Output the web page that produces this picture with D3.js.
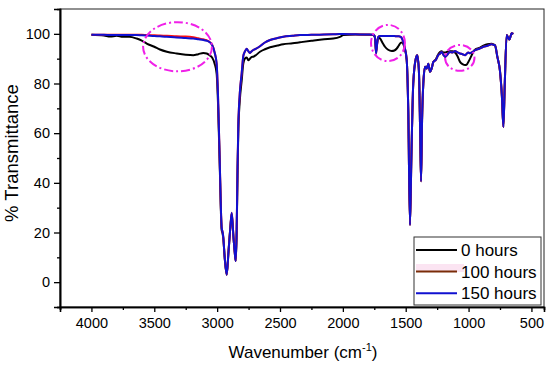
<!DOCTYPE html>
<html>
<head>
<meta charset="utf-8">
<script src="https://cdn.jsdelivr.net/npm/d3@7"></script>
<style>
  body { margin: 0; background: #fff; }
  svg { display: block; font-family: "Liberation Sans", Arial, sans-serif; }
  .axis path, .axis line { stroke: #000; }
  .axis text { fill: #000; font-size: 14.5px; }
</style>
</head>
<body>
<div id="chart"></div>
<script>
// wavenumbers (cm-1), shared by all three spectra
const wavenumbers = [4000, 3900, 3850, 3800, 3750, 3700, 3640, 3600, 3560, 3500, 3455, 3400, 3322, 3250, 3190, 3150, 3110, 3083, 3070, 3040, 3020, 3004, 2993, 2980, 2964, 2956, 2951, 2940, 2924, 2910, 2895, 2884, 2870, 2860, 2852, 2845, 2838, 2832, 2820, 2805, 2792, 2778, 2765, 2752, 2739, 2725, 2712, 2690, 2659, 2620, 2579, 2520, 2474, 2400, 2341, 2250, 2150, 2076, 2023, 1996, 1900, 1800, 1760, 1745, 1736, 1725, 1718, 1704, 1680, 1665, 1640, 1611, 1590, 1571, 1555, 1540, 1532, 1510, 1492, 1480, 1466, 1455, 1440, 1420, 1408, 1395, 1385, 1378, 1370, 1360, 1346, 1333, 1320, 1307, 1294, 1280, 1260, 1241, 1227, 1214, 1200, 1187, 1170, 1148, 1128, 1108, 1088, 1068, 1048, 1028, 1015, 1002, 988, 975, 960, 949, 915, 882, 850, 816, 800, 790, 771, 750, 735, 723, 712, 697, 676, 657, 644];

// % transmittance, 0 hours
const t0 = [99.6, 99.3, 98.9, 99.2, 98.8, 98.8, 98.1, 97.3, 96.1, 94.8, 93.7, 92.8, 92.1, 91.6, 91.4, 91.8, 92.3, 92.1, 91.7, 90.5, 88, 84, 72, 48, 21, 19.5, 17.5, 10, 3, 12, 22, 27.5, 18, 12, 8.5, 19, 43, 60, 73, 81, 88, 90.1, 90.5, 89.4, 90, 90.7, 90.8, 91.5, 92.8, 93.8, 94.6, 95.3, 95.8, 96.2, 96.6, 97.2, 97.8, 98.1, 98.8, 99.5, 99.7, 99.6, 99.5, 98.5, 93, 97, 98.5, 98.1, 96, 94.8, 93.6, 93.1, 93.3, 94.1, 95.3, 96.4, 96.5, 94.5, 89.4, 70, 23, 50, 80, 90, 91.4, 85, 60, 40.6, 65, 80, 86.7, 86, 88, 84.7, 86, 88.7, 89.8, 91.8, 92.7, 93, 92.5, 92.5, 92.8, 93, 93, 92.5, 91, 88.7, 87.8, 87.4, 87.6, 88.7, 90, 91.4, 93, 93.6, 94.3, 95.2, 95.8, 96, 95.7, 95.4, 90.7, 85, 75, 62.5, 80, 99.5, 97.7, 100.2, 100];

// % transmittance, 100 hours
const t100 = [99.6, 99.6, 99.6, 99.6, 99.6, 99.6, 99.6, 99.6, 99.5, 99.4, 99.3, 99.2, 99.0, 98.9, 98.6, 98.2, 97.8, 97.4, 97.1, 95.6, 92.5, 88, 75, 50, 22, 20, 18, 10, 3, 12, 22, 28, 18, 12, 8.5, 20, 45, 62, 76, 84, 91, 93, 94, 93, 92.3, 93, 93.5, 94, 95, 96.5, 97.5, 98.3, 98.8, 99.2, 99.5, 99.6, 99.7, 99.8, 99.9, 99.9, 99.8, 99.7, 99.6, 99, 92, 97, 98.8, 99.1, 99.1, 99.1, 99.1, 99.1, 99.1, 99.0, 99, 98.8, 98.3, 95, 89.4, 70, 23, 50, 80, 90, 91.4, 85, 60, 40.6, 65, 80, 86.7, 86, 88, 84.7, 86, 88.7, 89.5, 91.4, 92, 92.7, 91.5, 90.7, 91.5, 92.7, 92.5, 93.1, 92.5, 92.1, 91.8, 91.4, 92, 92.5, 92.2, 92.5, 93, 93.4, 94, 94.8, 95.2, 95.8, 95.5, 95.4, 90.7, 85, 75, 62.5, 80, 99.5, 97.7, 100.2, 100];

// % transmittance, 150 hours
const t150 = [99.6, 99.6, 99.5, 99.5, 99.5, 99.5, 99.5, 99.4, 99.3, 99.1, 99.0, 98.8, 98.5, 98.3, 98.1, 97.8, 97.5, 97.2, 97.0, 95.5, 92.5, 88, 75, 50, 22, 20, 18, 10, 3, 12, 22, 28, 18, 12, 8.5, 20, 45, 62, 76, 84, 91, 93, 94, 93, 92.3, 93, 93.5, 94, 95, 96.5, 97.5, 98.3, 98.8, 99.2, 99.5, 99.6, 99.7, 99.8, 99.9, 99.9, 99.8, 99.7, 99.6, 99, 92, 97, 98.8, 99.1, 99.1, 99.1, 99.1, 99.1, 99.1, 99.0, 99, 98.8, 98.3, 95, 89.4, 70, 23, 50, 80, 90, 91.4, 85, 60, 40.6, 65, 80, 86.7, 86, 88, 84.7, 86, 88.7, 89.5, 91.4, 92, 92.7, 91.5, 90.7, 91.5, 92.7, 92.5, 93.1, 92.5, 92.1, 91.8, 91.4, 92, 92.5, 92.2, 92.5, 93, 93.4, 94, 94.8, 95.2, 95.8, 95.5, 95.4, 90.7, 85, 75, 62.5, 80, 99.5, 97.7, 100.2, 100];

const seriesNames = ["0 hours", "100 hours", "150 hours"];
const seriesColors = ["#000000", "#ff1010", "#1010d0"];
const legendColors = ["#000000", "#7a2c08", "#1010d0"];

const xTicks = [4000, 3500, 3000, 2500, 2000, 1500, 1000, 500];
const xMinor = [4250, 3750, 3250, 2750, 2250, 1750, 1250, 750];
const yTicks = [0, 20, 40, 60, 80, 100];
const yMinor = [-10, 10, 30, 50, 70, 90];

// highlighted regions: [wavenumber, %T, half-width (cm-1), half-height (%T)]
const highlights = [[3315, 94.8, 274, 9.9], [1641, 96.3, 135, 7.3], [1070, 90.3, 117, 5.2]];

const width = 550, height = 369;
const margin = {top: 9, right: 6, bottom: 62, left: 60};

const svg = d3.select("#chart").append("svg")
    .attr("width", width)
    .attr("height", height);

const x = d3.scaleLinear().domain([4250, 400]).range([margin.left, width - margin.right]);
const y = d3.scaleLinear().domain([-10, 110]).range([height - margin.bottom, margin.top]);

// frame
svg.append("rect")
    .attr("x", margin.left).attr("y", margin.top)
    .attr("width", width - margin.left - margin.right)
    .attr("height", height - margin.top - margin.bottom)
    .attr("fill", "none").attr("stroke", "#222").attr("stroke-width", 1);

const spectra = [t0, t100, t150];
const line = d3.line()
    .x((d, i) => x(wavenumbers[i]))
    .y(d => y(d))
    .curve(d3.curveMonotoneX);

svg.append("g").selectAll("path")
    .data(spectra)
    .enter().append("path")
    .attr("d", d => line(d))
    .attr("fill", "none")
    .attr("stroke", (d, i) => seriesColors[i])
    .attr("stroke-width", 2)
    .attr("stroke-linejoin", "round");

// dash-dot ellipses
svg.append("g").selectAll("ellipse")
    .data(highlights)
    .enter().append("ellipse")
    .attr("cx", d => x(d[0]))
    .attr("cy", d => y(d[1]))
    .attr("rx", d => x(d[0] - d[2]) - x(d[0]))
    .attr("ry", d => y(d[1] - d[3]) - y(d[1]))
    .attr("fill", "none")
    .attr("stroke", "#f020e8")
    .attr("stroke-width", 2)
    .attr("stroke-dasharray", "9,3,2,3");

// axes
svg.append("g").attr("class", "axis")
    .attr("transform", `translate(0,${height - margin.bottom})`)
    .call(d3.axisBottom(x).tickValues(xTicks).tickFormat(d3.format("d")).tickSize(5).tickPadding(6));
svg.append("g").attr("class", "axis")
    .attr("transform", `translate(0,${height - margin.bottom})`)
    .call(d3.axisBottom(x).tickValues(xMinor).tickSize(3).tickFormat(""));

svg.append("g").attr("class", "axis")
    .attr("transform", `translate(${margin.left},0)`)
    .call(d3.axisLeft(y).tickValues(yTicks).tickSize(6).tickPadding(4));
svg.append("g").attr("class", "axis")
    .attr("transform", `translate(${margin.left},0)`)
    .call(d3.axisLeft(y).tickValues(yMinor).tickSize(3).tickFormat(""));

svg.selectAll(".axis path").attr("stroke-width", 1.6);
svg.selectAll(".axis line").attr("stroke-width", 1.3);

// axis titles
const xTitle = svg.append("text")
    .attr("x", (margin.left + width - margin.right) / 2 + 1)
    .attr("y", 358)
    .attr("text-anchor", "middle")
    .attr("font-size", 17);
xTitle.append("tspan").text("Wavenumber (cm");
xTitle.append("tspan").attr("dy", -7).attr("font-size", 11).text("-1");
xTitle.append("tspan").attr("dy", 7).text(")");

svg.append("text")
    .attr("transform", "translate(18,153) rotate(-90)")
    .attr("text-anchor", "middle")
    .attr("font-size", 18.5)
    .text("% Transmittance");

// legend
const lg = svg.append("g").attr("transform", "translate(414,237)");
lg.append("rect")
    .attr("width", 127).attr("height", 68)
    .attr("fill", "#fff").attr("stroke", "#333").attr("stroke-width", 1);
lg.append("rect")
    .attr("x", 2).attr("y", 27).attr("width", 48).attr("height", 8)
    .attr("fill", "#fbe4f2");
seriesNames.forEach((name, i) => {
    const yy = 13 + i * 21.6;
    lg.append("line")
        .attr("x1", 2).attr("x2", 43)
        .attr("y1", yy).attr("y2", yy)
        .attr("stroke", legendColors[i]).attr("stroke-width", 2);
    lg.append("text")
        .attr("x", 47).attr("y", yy + 6)
        .attr("font-size", 17)
        .text(name);
});
</script>
</body>
</html>
